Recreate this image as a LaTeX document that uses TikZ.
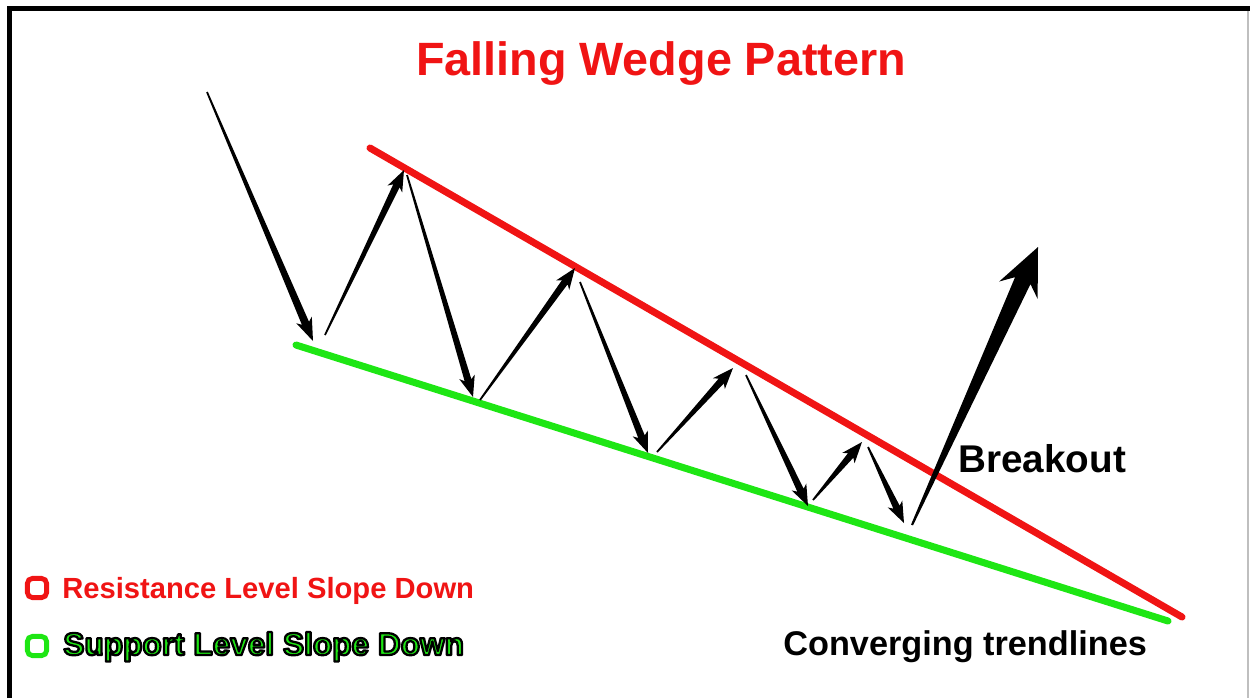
\documentclass[tikz,border=0pt]{standalone}
\usepackage{fontspec}
\setmainfont{Liberation Sans}
\usepackage{xcolor}
\usepackage{tikz}
\usetikzlibrary{calc}

\definecolor{resred}{RGB}{240,20,20}
\definecolor{supgreen}{RGB}{30,230,20}

% tapered price leg: from, to, tail, neck, barb, neck dist, barb dist
\newcommand{\priceleg}[7]{%
  \coordinate (neck) at ($(#2)!#6!(#1)$);
  \coordinate (barb) at ($(#2)!#7!(#1)$);
  \fill ($(#1)!#3!90:(#2)$) -- ($(neck)!#4!90:(#2)$) -- ($(barb)!#5!90:(#2)$)
    -- (#2) -- ($(barb)!#5!-90:(#2)$) -- ($(neck)!#4!-90:(#2)$)
    -- ($(#1)!#3!-90:(#2)$) -- cycle;
}
\newcommand{\smallleg}[2]{\priceleg{#1}{#2}{0.5pt}{2pt}{4.6pt}{10pt}{12pt}}
% green letters with a black rim (fill + stroke render mode)
\newcommand{\rimtext}[1]{\special{pdf:literal direct 2 Tr 1.3 w 1 j 0 0 0 RG}#1\special{pdf:literal direct 0 Tr}}

\tikzset{
  trend/.style={line width=4pt,line cap=round},
  lbl/.style={font=\bfseries,inner sep=0pt,anchor=base west},
  legbox/.style={line width=2.8pt,rounded corners=3pt,fill=white,minimum size=11pt,inner sep=0pt}
}

\begin{document}
\begin{tikzpicture}[x=0.02cm,y=-0.02cm]
  \useasboundingbox (0,0) rectangle (1250,698);
  % frame
  \draw[line width=0.1cm] (9.5,698) -- (9.5,8.5) -- (1250,8.5);
  \draw[black!25,line width=0.6pt] (1248,11) -- (1248,698);

  % trendlines
  \coordinate (res0) at (370,148);
  \coordinate (res1) at (1182,617);
  \coordinate (sup0) at (296,345);
  \coordinate (sup1) at (1168,621);
  \draw[trend,resred] (res0) -- (res1);
  \draw[trend,supgreen] (sup0) -- (sup1);

  % swing points
  \coordinate (p0) at (207,92);
  \coordinate (p1) at (313,341);
  \coordinate (p1b) at (325,335);
  \coordinate (p2) at (404,170);
  \coordinate (p2b) at (407,175);
  \coordinate (p3) at (473,397);
  \coordinate (p3b) at (480,400);
  \coordinate (p4) at (575,268);
  \coordinate (p4b) at (580,282);
  \coordinate (p5) at (648,453);
  \coordinate (p5b) at (657,452);
  \coordinate (p6) at (733,368);
  \coordinate (p6b) at (746,375);
  \coordinate (p7) at (808,506);
  \coordinate (p7b) at (813,500);
  \coordinate (p8) at (862,442);
  \coordinate (p8b) at (868,447);
  \coordinate (p9) at (904,523);
  \coordinate (p9b) at (912,525);
  \coordinate (brk) at (1038,247);

  \priceleg{p0}{p1}{0.5pt}{2.2pt}{4.8pt}{11pt}{13pt}
  \smallleg{p1b}{p2}
  \smallleg{p2b}{p3}
  \smallleg{p3b}{p4}
  \smallleg{p4b}{p5}
  \smallleg{p5b}{p6}
  \smallleg{p6b}{p7}
  \smallleg{p7b}{p8}
  \smallleg{p8b}{p9}
  \priceleg{p9b}{brk}{0.6pt}{4.8pt}{12pt}{21pt}{27pt}

  % texts
  \node[lbl,resred,anchor=base,font=\fontsize{26.6pt}{30pt}\bfseries] (ttl) at (661,75) {Falling Wedge Pattern};
  \node[lbl,font=\fontsize{22pt}{26pt}\bfseries] (brklbl) at (958,472) {Breakout};
  \node[lbl,font=\fontsize{19.5pt}{23pt}\bfseries] (conv) at (783,655) {Converging trendlines};

  % legend
  \node[legbox,draw=resred] (resbox) at (37,588) {};
  \node[lbl,resred,font=\fontsize{16.6pt}{20pt}\bfseries] (reslbl) at (62,598) {Resistance Level Slope Down};
  \node[legbox,draw=supgreen] (supbox) at (37,646) {};
  \node[lbl,supgreen,font=\fontsize{18pt}{21pt}\bfseries] (suplbl) at (63,655) {\rimtext{Support Level Slope Down}};
\end{tikzpicture}
\end{document}
